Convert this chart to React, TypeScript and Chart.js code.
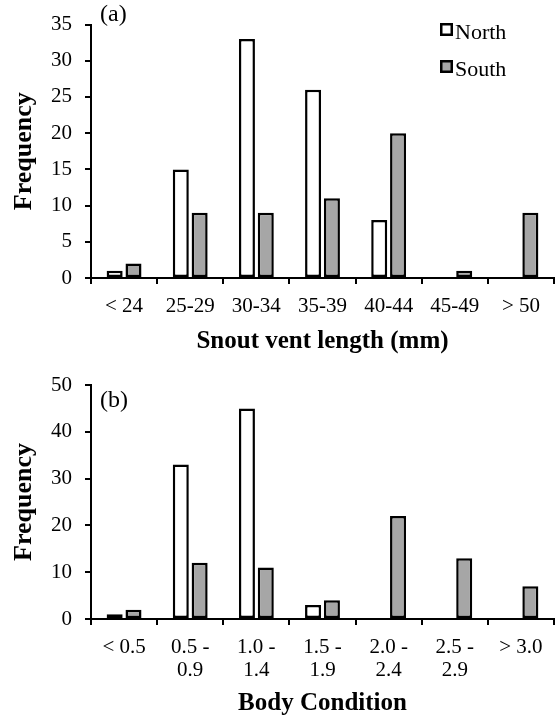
import React, { useEffect, useRef } from "react";
import { Chart, registerables } from "chart.js";

Chart.register(...registerables);

// ---- Data ----
const sizeLabels = ["< 24", "25-29", "30-34", "35-39", "40-44", "45-49", "> 50"];
const sizeNorth = [1, 15, 33, 26, 8, 0, 0];
const sizeSouth = [2, 9, 9, 11, 20, 1, 9];

const conditionLabels: (string | string[])[] = [
  "< 0.5",
  ["0.5 -", "0.9"],
  ["1.0 -", "1.4"],
  ["1.5 -", "1.9"],
  ["2.0 -", "2.4"],
  ["2.5 -", "2.9"],
  "> 3.0",
];
const conditionNorth = [1, 33, 45, 3, 0, 0, 0];
const conditionSouth = [2, 12, 11, 4, 22, 13, 7];

const seriesNames = ["North", "South"];

const SERIF = '"Liberation Serif", "Times New Roman", serif';
const NORTH_FILL = "#ffffff";
const SOUTH_FILL = "#a6a6a6";

const overlayPlugin = {
  id: "overlay",
  afterDraw(chart: any, _args: any, opts: any) {
    const ctx = chart.ctx as CanvasRenderingContext2D;
    ctx.save();
    ctx.fillStyle = "#000";
    ctx.font = `24px ${SERIF}`;
    ctx.textBaseline = "middle";
    ctx.textAlign = "left";
    ctx.fillText(opts.panel, opts.panelX, opts.panelY);
    if (opts.showLegend) {
      chart.data.datasets.forEach((ds: any, i: number) => {
        const y = opts.legendY + i * opts.legendGap;
        ctx.fillStyle = ds.backgroundColor;
        ctx.fillRect(opts.legendX, y, 13, 13);
        ctx.lineWidth = 2.5;
        ctx.strokeStyle = "#000";
        ctx.strokeRect(opts.legendX + 1.25, y + 1.25, 10.5, 10.5);
        ctx.fillStyle = "#000";
        ctx.font = `22px ${SERIF}`;
        ctx.textBaseline = "alphabetic";
        ctx.fillText(ds.label, opts.legendX + 15, y + 16);
      });
    }
    ctx.restore();
  },
};

function makeConfig(p: {
  labels: any[];
  north: number[];
  south: number[];
  yMax: number;
  yStep: number;
  xTitle: string;
  panel: string;
  panelY: number;
  showLegend: boolean;
  padTop: number;
  xHeight: number;
  titlePadBottom: number;
}): any {
  const tickFont = { family: SERIF, size: 21, lineHeight: 1.1 };
  const xTitleFont = { family: SERIF, size: 25, weight: "bold", lineHeight: 1 };
  const yTitleFont = { family: SERIF, size: 26, weight: "bold", lineHeight: 1 };
  const grid = {
    drawOnChartArea: false,
    drawTicks: true,
    tickLength: 6,
    color: "#000",
    lineWidth: 2,
  };
  const border = { display: true, color: "#000", width: 2 };
  return {
    type: "bar",
    data: {
      labels: p.labels,
      datasets: [
        {
          label: seriesNames[0],
          data: p.north,
          backgroundColor: NORTH_FILL,
          borderColor: "#000",
          borderWidth: 2.5,
          borderSkipped: false,
        },
        {
          label: seriesNames[1],
          data: p.south,
          backgroundColor: SOUTH_FILL,
          borderColor: "#000",
          borderWidth: 2.5,
          borderSkipped: false,
        },
      ],
    },
    options: {
      responsive: false,
      animation: false,
      devicePixelRatio: 1,
      layout: { padding: { left: 0, right: 2, top: p.padTop, bottom: 0 } },
      datasets: { bar: { categoryPercentage: 0.57, barPercentage: 0.85 } },
      plugins: {
        legend: { display: false },
        tooltip: { enabled: false },
        overlay: {
          panel: p.panel,
          panelX: 100,
          panelY: p.panelY,
          showLegend: p.showLegend,
          legendX: 440,
          legendY: 23,
          legendGap: 37,
        },
      },
      scales: {
        x: {
          grid: { ...grid, offset: true },
          border,
          ticks: {
            color: "#000",
            font: tickFont,
            padding: 11,
            maxRotation: 0,
            minRotation: 0,
            autoSkip: false,
          },
          title: {
            display: true,
            text: p.xTitle,
            color: "#000",
            font: xTitleFont,
            padding: { top: 0, bottom: p.titlePadBottom },
          },
          afterFit: (s: any) => {
            s.height = p.xHeight;
          },
        },
        y: {
          min: 0,
          max: p.yMax,
          grid,
          border,
          ticks: { stepSize: p.yStep, color: "#000", font: tickFont, padding: 13 },
          title: {
            display: true,
            text: "Frequency",
            color: "#000",
            font: yTitleFont,
            padding: { top: 11, bottom: 0 },
          },
          afterFit: (s: any) => {
            s.width = 91;
          },
        },
      },
    },
    plugins: [overlayPlugin],
  };
}

function Panel(props: { config: any; top: number; height: number }) {
  const ref = useRef<HTMLCanvasElement | null>(null);
  useEffect(() => {
    if (!ref.current) return;
    const chart = new Chart(ref.current, props.config);
    return () => chart.destroy();
  }, []);
  return (
    <canvas
      ref={ref}
      width={556}
      height={props.height}
      style={{ position: "absolute", left: 0, top: props.top, width: 556, height: props.height, display: "block" }}
    />
  );
}

export default function App() {
  const configA = makeConfig({
    labels: sizeLabels,
    north: sizeNorth,
    south: sizeSouth,
    yMax: 35,
    yStep: 5,
    xTitle: "Snout vent length (mm)",
    panel: "(a)",
    panelY: 15,
    showLegend: true,
    padTop: 20,
    xHeight: 80,
    titlePadBottom: 4,
  });
  const configB = makeConfig({
    labels: conditionLabels,
    north: conditionNorth,
    south: conditionSouth,
    yMax: 50,
    yStep: 10,
    xTitle: "Body Condition",
    panel: "(b)",
    panelY: 42.5,
    showLegend: false,
    padTop: 27,
    xHeight: 97,
    titlePadBottom: 0,
  });
  return (
    <div style={{ position: "absolute", left: 0, top: 0, width: 556, height: 716, background: "#fff" }}>
      <Panel config={configA} top={0} height={358} />
      <Panel config={configB} top={358} height={358} />
    </div>
  );
}
